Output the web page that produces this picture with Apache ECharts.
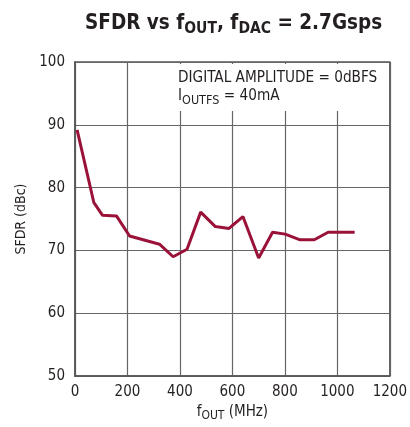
<!DOCTYPE html>
<html><head><meta charset="utf-8">
<script src="https://cdn.jsdelivr.net/npm/echarts@6/dist/echarts.min.js"></script>
<style>html,body{margin:0;padding:0;background:#fff}#c{width:410px;height:427px}</style>
</head><body><div id="c"></div>
<script>
const freqMHz = [8, 72, 105, 158, 208, 322, 374, 427, 479, 535, 587, 640, 700, 753, 801, 858, 912, 965, 1066];
const sfdrDBc = [89.2, 77.6, 75.6, 75.5, 72.3, 71.0, 69.0, 70.2, 76.1, 73.8, 73.5, 75.4, 68.8, 72.9, 72.6, 71.7, 71.7, 72.9, 72.9];
const xTickLabels = [0, 200, 400, 600, 800, 1000, 1200];
const yTickLabels = [50, 60, 70, 80, 90, 100];

const F = "'Liberation Sans Narrow','DejaVu Sans Condensed','Liberation Sans',sans-serif";
const INK = '#231f20';
const chart = echarts.init(document.getElementById('c'), null, {renderer: 'canvas'});
chart.setOption({
  animation: false,
  backgroundColor: '#fff',
  title: [{
    text: '{a|SFDR vs f}{s|OUT}{a|, f}{s|DAC}{a| = 2.7Gsps}',
    left: 80, top: 8,
    textStyle: {
      rich: {
        a: {fontSize: 20.5, fontWeight: 'bold', fontFamily: F, color: INK, verticalAlign: 'top', lineHeight: 24},
        s: {fontSize: 15.5, fontWeight: 'bold', fontFamily: F, color: INK, verticalAlign: 'top', lineHeight: 24, padding: [8, 0, 0, 0]}
      }
    }
  }, {
    text: '{a|DIGITAL AMPLITUDE = 0dBFS}\n{a|I}{s|OUTFS}{a| = 40mA}',
    left: 176, top: 64,
    backgroundColor: '#fff',
    padding: [7, 8, 4, 2],
    textStyle: {
      fontWeight: 'normal',
      rich: {
        a: {fontSize: 15.2, fontWeight: 'normal', fontFamily: F, color: INK, verticalAlign: 'top', lineHeight: 18},
        s: {fontSize: 12.5, fontWeight: 'normal', fontFamily: F, color: INK, verticalAlign: 'top', lineHeight: 18, padding: [5, 0, 0, 0]}
      }
    }
  }],
  grid: {left: 75, right: 18, top: 62, bottom: 48, show: true, borderColor: '#555', borderWidth: 1.5},
  xAxis: {
    type: 'value', min: xTickLabels[0], max: xTickLabels[xTickLabels.length - 1], interval: 200,
    axisLine: {show: true, lineStyle: {color: '#555', width: 1.5}},
    axisTick: {show: false},
    splitLine: {show: true, lineStyle: {color: '#666', width: 1.2}},
    axisLabel: {color: INK, fontSize: 15, fontFamily: F, margin: 9, formatter: v => String(v)},
    name: '{a|f}{s|OUT}{a| (MHz)}',
    nameLocation: 'middle', nameGap: 26,
    nameTextStyle: {
      rich: {
        a: {fontSize: 15, fontFamily: F, color: INK, verticalAlign: 'top', lineHeight: 18},
        s: {fontSize: 12, fontFamily: F, color: INK, verticalAlign: 'top', lineHeight: 18, padding: [5, 0, 0, 0]}
      }
    }
  },
  yAxis: {
    type: 'value', min: yTickLabels[0], max: yTickLabels[yTickLabels.length - 1], interval: 10,
    axisLine: {show: true, lineStyle: {color: '#555', width: 1.5}},
    axisTick: {show: false},
    splitLine: {show: true, lineStyle: {color: '#666', width: 1.2}},
    axisLabel: {color: INK, fontSize: 15, fontFamily: F, margin: 10, formatter: v => String(v)},
    name: 'SFDR (dBc)', nameLocation: 'middle', nameGap: 40,
    nameTextStyle: {fontSize: 14, fontFamily: F, color: INK}
  },
  series: [{
    type: 'line',
    data: freqMHz.map((f, i) => [f, sfdrDBc[i]]),
    showSymbol: false, symbol: 'none',
    lineStyle: {color: '#9b1239', width: 3},
    z: 3
  }]
});
</script>
</body></html>
